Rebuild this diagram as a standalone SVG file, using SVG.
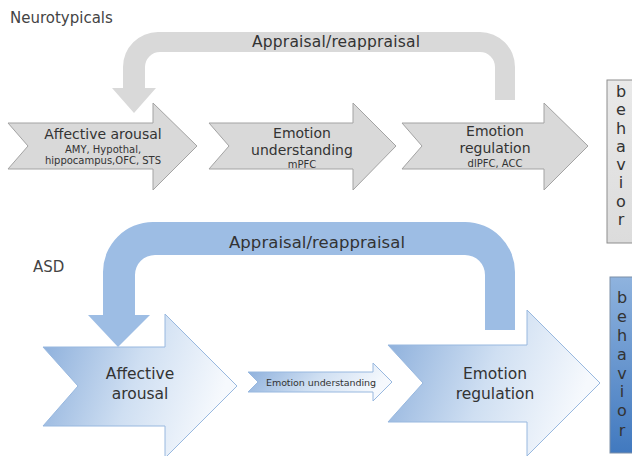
<svg xmlns="http://www.w3.org/2000/svg" width="632" height="456" viewBox="0 0 632 456">
<defs>
<style>
text{font-family:"DejaVu Sans","Liberation Sans",sans-serif;fill:#333}
.title{font-size:15px;fill:#444}
.main{font-size:14px}
.sub{font-size:10px}
.big{font-size:15.5px}
.beh{font-size:16px;text-anchor:middle}
.mid{text-anchor:middle}
.garrow{fill:#d9d9d9;stroke:#a3a3a3;stroke-width:1}
.barrow{fill:url(#bg);stroke:#98b8df;stroke-width:1}
</style>
<linearGradient id="bg" x1="0" y1="0" x2="1" y2="0.25">
<stop offset="0" stop-color="#88acda"/>
<stop offset="0.55" stop-color="#cfdff2"/>
<stop offset="1" stop-color="#f6f9fd"/>
</linearGradient>
<linearGradient id="bbox" x1="0" y1="0" x2="0" y2="1">
<stop offset="0" stop-color="#8fb3de"/>
<stop offset="1" stop-color="#4179bf"/>
</linearGradient>
<linearGradient id="gbox" x1="0" y1="0" x2="0" y2="1">
<stop offset="0" stop-color="#e9e9e9"/>
<stop offset="1" stop-color="#dcdcdc"/>
</linearGradient>
</defs>
<rect width="632" height="456" fill="#ffffff"/>
<text class="title" x="10" y="23">Neurotypicals</text>
<text class="title" x="33" y="272">ASD</text>
<g id="connectors">
<path id="loop-top" d="M515,100 L515,67 A35,35 0 0 0 480,32 L158,32 A35,35 0 0 0 123,67 L123,88 L112,88 L134,113 L156,88 L145,88 L145,67 A15,15 0 0 1 160,52 L480,52 A15,15 0 0 1 495,67 L495,100 Z" fill="#d9d9d9"/>
<text class="mid" x="336" y="47" font-size="15.5" textLength="168">Appraisal/reappraisal</text>
<path id="loop-bottom" d="M515,330 L515,272 A50,50 0 0 0 465,222 L153,222 A50,50 0 0 0 103,272 L103,315 L88,315 L118,347 L150,315 L135,315 L135,275 A20,20 0 0 1 155,255 L465,255 A20,20 0 0 1 485,275 L485,330 Z" fill="#9dbde4"/>
<text class="mid" x="317" y="248" font-size="16.5" textLength="176">Appraisal/reappraisal</text>
</g>
<g id="nt-affective">
<path class="garrow" d="M8,123 L153,123 L153,103 L197,146 L153,190 L153,169 L8,169 L28,146 Z"/>
<text class="main mid" x="103" y="139">Affective arousal</text>
<text class="sub mid" x="103" y="153">AMY, Hypothal,</text>
<text class="sub mid" x="103" y="164">hippocampus,OFC, STS</text>
</g>
<g id="nt-understanding">
<path class="garrow" d="M209,123 L353,123 L353,103 L396,146 L353,190 L353,169 L209,169 L229,146 Z"/>
<text class="main mid" x="302" y="138">Emotion</text>
<text class="main mid" x="302" y="155">understanding</text>
<text class="sub mid" x="302" y="168">mPFC</text>
</g>
<g id="nt-regulation">
<path class="garrow" d="M402,123 L544,123 L544,103 L588,146 L544,190 L544,169 L402,169 L422,146 Z"/>
<text class="main mid" x="495" y="136">Emotion</text>
<text class="main mid" x="495" y="153">regulation</text>
<text class="sub mid" x="495" y="167">dlPFC, ACC</text>
</g>
<g id="nt-behavior">
<rect x="607" y="80" width="30" height="163" fill="url(#gbox)" stroke="#8e8e8e" stroke-width="1"/>
<text class="beh" x="621" y="97">b</text>
<text class="beh" x="621" y="115">e</text>
<text class="beh" x="621" y="134">h</text>
<text class="beh" x="621" y="152">a</text>
<text class="beh" x="621" y="170">v</text>
<text class="beh" x="621" y="188">i</text>
<text class="beh" x="621" y="207">o</text>
<text class="beh" x="621" y="225">r</text>
</g>
<g id="asd-affective">
<path class="barrow" d="M43,347 L165,347 L165,314 L237,386 L165,458 L165,426 L43,426 L78,386 Z"/>
<text class="big mid" x="140" y="379">Affective</text>
<text class="big mid" x="140" y="399">arousal</text>
</g>
<g id="asd-understanding">
<path class="barrow" d="M248,372 L373,372 L373,363 L392,382 L373,401 L373,392 L248,392 L258,382 Z"/>
<text class="mid" x="321" y="386" font-size="9.5" textLength="110">Emotion understanding</text>
</g>
<g id="asd-regulation">
<path class="barrow" d="M388,345 L527,345 L527,310 L600,383 L527,456 L527,422 L388,422 L423,383 Z"/>
<text class="big mid" x="495" y="379">Emotion</text>
<text class="big mid" x="495" y="399">regulation</text>
</g>
<g id="asd-behavior">
<rect x="610" y="277" width="30" height="176" fill="url(#bbox)" stroke="#7d8fa8" stroke-width="1"/>
<text class="beh" x="622" y="303">b</text>
<text class="beh" x="622" y="322">e</text>
<text class="beh" x="622" y="341">h</text>
<text class="beh" x="622" y="360">a</text>
<text class="beh" x="622" y="379">v</text>
<text class="beh" x="622" y="397">i</text>
<text class="beh" x="622" y="416">o</text>
<text class="beh" x="622" y="436">r</text>
</g>
</svg>
